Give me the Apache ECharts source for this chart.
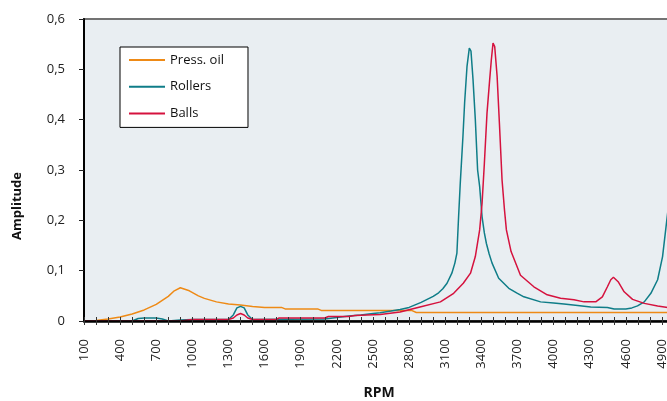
<!DOCTYPE html>
<html>
<head>
<meta charset="utf-8">
<script src="https://cdn.jsdelivr.net/npm/echarts@6/dist/echarts.min.js"></script>
<style>
  html, body { margin: 0; padding: 0; background: #fff; overflow: hidden; width: 667px; height: 401px; }
  #chart { width: 700px; height: 401px; }
</style>
</head>
<body>
<div id="chart"></div>
<script>
// ---- Data ----
const seriesNames = ['Press. oil', 'Rollers', 'Balls'];

const oilRpm = [100, 200, 300, 400, 500, 600, 700, 800, 850, 900, 975, 1050, 1100, 1200, 1300, 1400, 1500, 1600, 1740, 1770, 2040, 2070, 2820, 2860, 5000];
const oilAmp = [0, 0.001, 0.004, 0.008, 0.014, 0.022, 0.033, 0.049, 0.060, 0.066, 0.060, 0.050, 0.045, 0.038, 0.034, 0.032, 0.029, 0.027, 0.027, 0.024, 0.024, 0.021, 0.021, 0.017, 0.017];

const rolRpm = [100, 500, 550, 600, 700, 750, 800, 900, 1000, 1300, 1340, 1370, 1400, 1430, 1460, 1500, 2100, 2200, 2300, 2400, 2500, 2560, 2650, 2725, 2800, 2840, 2900, 2950, 3000, 3045, 3080, 3115, 3155, 3180, 3197, 3211, 3225, 3247, 3261, 3281, 3300, 3314, 3331, 3350, 3369, 3386, 3406, 3425, 3442, 3465, 3489, 3544, 3628, 3700, 3753, 3892, 4000, 4086, 4200, 4308, 4447, 4503, 4600, 4650, 4697, 4753, 4808, 4864, 4905, 4942, 5000];
const rolAmp = [0, 0, 0.005, 0.006, 0.006, 0.004, 0, 0.002, 0.003, 0.003, 0.012, 0.026, 0.029, 0.026, 0.012, 0.003, 0.004, 0.007, 0.010, 0.012, 0.015, 0.0165, 0.020, 0.023, 0.027, 0.031, 0.037, 0.043, 0.049, 0.056, 0.064, 0.075, 0.095, 0.115, 0.135, 0.207, 0.274, 0.366, 0.433, 0.506, 0.542, 0.536, 0.479, 0.400, 0.300, 0.267, 0.207, 0.175, 0.154, 0.133, 0.115, 0.085, 0.065, 0.055, 0.048, 0.038, 0.036, 0.034, 0.031, 0.028, 0.027, 0.024, 0.024, 0.026, 0.030, 0.038, 0.055, 0.082, 0.128, 0.204, 0.320];

const balRpm = [100, 900, 1000, 1300, 1340, 1370, 1400, 1430, 1460, 1500, 1700, 1720, 2100, 2130, 2300, 2350, 2450, 2560, 2725, 2890, 3060, 3170, 3250, 3310, 3350, 3386, 3406, 3425, 3447, 3469, 3483, 3497, 3511, 3531, 3550, 3572, 3592, 3608, 3647, 3725, 3836, 3947, 4058, 4169, 4253, 4350, 4405, 4447, 4475, 4497, 4536, 4586, 4656, 4753, 4864, 4947, 5000];
const balAmp = [0, 0, 0.003, 0.003, 0.006, 0.012, 0.015, 0.012, 0.006, 0.003, 0.003, 0.006, 0.006, 0.009, 0.009, 0.011, 0.012, 0.013, 0.018, 0.028, 0.038, 0.055, 0.075, 0.095, 0.128, 0.181, 0.234, 0.313, 0.413, 0.479, 0.519, 0.552, 0.545, 0.486, 0.393, 0.280, 0.221, 0.181, 0.138, 0.091, 0.068, 0.052, 0.045, 0.042, 0.038, 0.038, 0.048, 0.068, 0.082, 0.087, 0.078, 0.058, 0.043, 0.035, 0.030, 0.027, 0.025];

const xTickLabels = [100, 400, 700, 1000, 1300, 1600, 1900, 2200, 2500, 2800, 3100, 3400, 3700, 4000, 4300, 4600, 4900];
const yTickLabels = ['0', '0,1', '0,2', '0,3', '0,4', '0,5', '0,6'];

// ---- Chart ----
const zip = (xs, ys) => xs.map((x, i) => [x, ys[i]]);
const colors = ['#EE8A16', '#0F7D88', '#D5123E'];
const FONT = '"Open Sans", "Noto Sans", sans-serif';
const gridBox = { left: 84, top: 19, width: 590, height: 302, outerBoundsMode: 'none', containLabel: false };

const chart = echarts.init(document.getElementById('chart'), null, { renderer: 'canvas' });

chart.setOption({
  animation: false,
  textStyle: { fontFamily: FONT },
  grid: [
    Object.assign({ show: true, backgroundColor: '#E9EEF2', borderColor: '#737373', borderWidth: 2 }, gridBox),
    // same box again: only carries the inward half of the crossing x ticks
    Object.assign({ show: false }, gridBox)
  ],
  legend: {
    orient: 'vertical', left: 120, top: 47,
    padding: [6, 24, 7, 9],
    backgroundColor: '#fff', borderColor: '#000', borderWidth: 1,
    icon: 'rect', itemWidth: 36, itemHeight: 2, itemGap: 12.7,
    textStyle: { fontFamily: FONT, fontSize: 13, color: '#111', lineHeight: 14 },
    data: seriesNames
  },
  xAxis: [{
    gridIndex: 0,
    type: 'value', min: 100, max: 5000, interval: 100, position: 'bottom',
    z: 5,
    name: 'RPM', nameLocation: 'middle', nameGap: 65,
    nameTextStyle: { fontFamily: FONT, fontSize: 14, fontWeight: 'bold', color: '#111' },
    axisLine: { show: true, onZero: false, lineStyle: { color: '#000', width: 2.5 } },
    axisTick: { show: true, inside: false, length: 4, lineStyle: { color: '#333', width: 1 } },
    splitLine: { show: false },
    axisLabel: {
      show: true, rotate: 90, margin: 18, fontSize: 13, color: '#222', fontFamily: FONT,
      formatter: function (v) { return xTickLabels.indexOf(v) >= 0 ? String(v) : ''; }
    }
  }, {
    gridIndex: 1,
    type: 'value', min: 100, max: 5000, interval: 100, position: 'bottom',
    z: 6,
    axisLine: { show: false, onZero: false },
    axisTick: { show: true, inside: true, length: 4, lineStyle: { color: '#333', width: 1 } },
    splitLine: { show: false },
    axisLabel: { show: false }
  }],
  yAxis: [{
    gridIndex: 0,
    type: 'value', min: 0, max: 0.6, interval: 0.1, z: 5,
    axisLine: { show: true, onZero: false, lineStyle: { color: '#000', width: 2 } },
    axisTick: { show: true, inside: false, length: 5, lineStyle: { color: '#222', width: 1 } },
    splitLine: { show: false },
    axisLabel: {
      margin: 19, fontSize: 13, color: '#222', fontFamily: FONT,
      formatter: v => yTickLabels[Math.round(v * 10)]
    }
  }, {
    gridIndex: 1,
    type: 'value', min: 0, max: 0.6, interval: 0.1, show: false
  }],
  graphic: [{
    type: 'text', x: 17, y: 206, rotation: Math.PI / 2,
    style: { text: 'Amplitude', font: 'bold 13px ' + FONT, fill: '#111', align: 'center', verticalAlign: 'middle' }
  }],
  series: [
    { name: seriesNames[0], data: zip(oilRpm, oilAmp) },
    { name: seriesNames[1], data: zip(rolRpm, rolAmp) },
    { name: seriesNames[2], data: zip(balRpm, balAmp) }
  ].map((s, i) => Object.assign(s, {
    type: 'line', xAxisIndex: 0, yAxisIndex: 0,
    showSymbol: false, symbol: 'none',
    smooth: false,
    color: colors[i],
    lineStyle: { color: colors[i], width: 1.5 }
  }))
});
</script>
</body>
</html>
